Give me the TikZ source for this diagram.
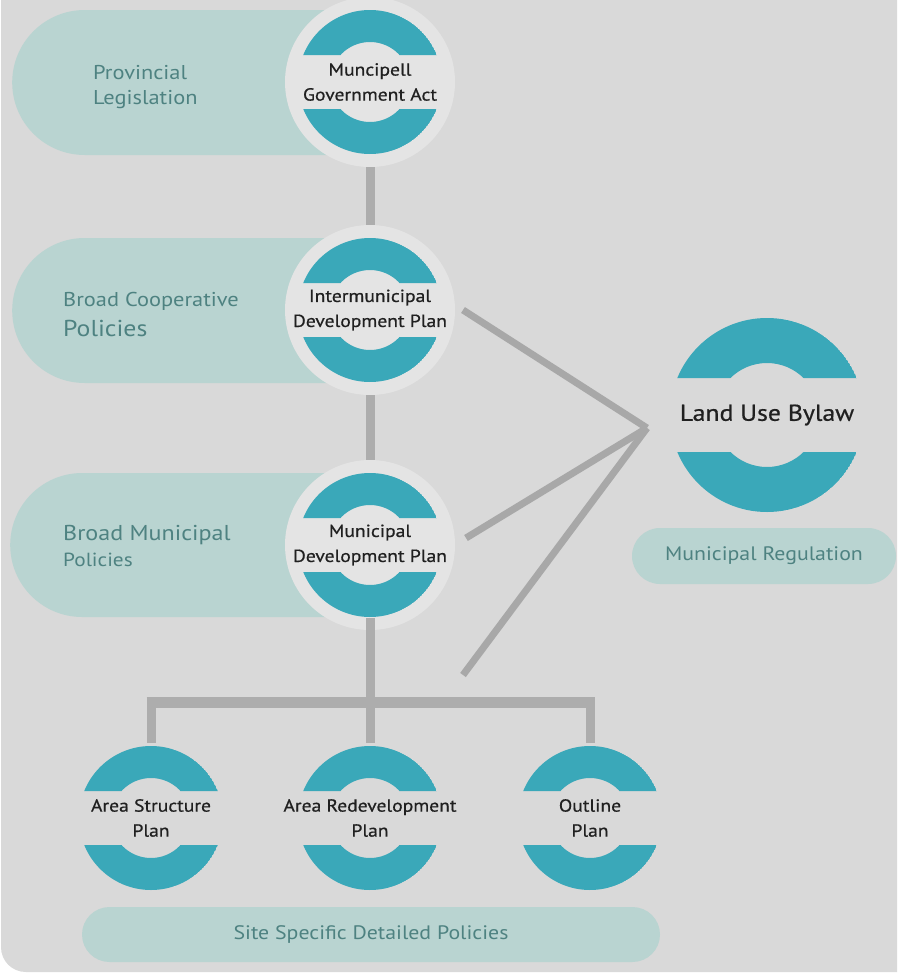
\documentclass[tikz,border=0pt]{standalone}
\usepackage{fontspec}
\setmainfont{PT Sans}[FakeStretch=1.12]
\newfontfamily\ringfont{PT Sans}[FakeStretch=1.12, FakeBold=0.6]
\usetikzlibrary{shapes.misc}
\definecolor{panelc}{HTML}{D9D9D9}
\definecolor{haloc}{HTML}{E4E4E4}
\definecolor{ringc}{HTML}{3AA8B9}
\definecolor{pillc}{HTML}{B9D4D1}
\definecolor{connc}{HTML}{ADADAD}
\definecolor{diagc}{HTML}{A8A8A8}
\definecolor{pilltext}{HTML}{4E8281}
\definecolor{ringtext}{HTML}{202020}
\tikzset{
  ring/.style n args={3}{circle, minimum size=2*#1, inner sep=-25pt, outer sep=3pt, align=center, text=ringtext,
    path picture={
      \begin{scope}
        \clip ([shift={(-120pt,#3)}]path picture bounding box.center) rectangle ([shift={(120pt,120pt)}]path picture bounding box.center)
              ([shift={(-120pt,-#3)}]path picture bounding box.center) rectangle ([shift={(120pt,-120pt)}]path picture bounding box.center);
        \fill[ringc, even odd rule] (path picture bounding box.center) circle (#1) (path picture bounding box.center) circle (#2);
      \end{scope}}},
  smallring/.style={ring={72pt}{40pt}{27pt}, font=\ringfont\fontsize{17.5}{25}\selectfont},
  halo/.style={outer sep=13pt, preaction={draw=haloc, fill=haloc, line width=26pt}},
  pill/.style={rounded rectangle, rounded rectangle right arc=none, fill=pillc, inner sep=0pt, anchor=west},
  fullpill/.style={rounded rectangle, fill=pillc, inner sep=0pt, text=pilltext},
  ptext/.style={anchor=base west, text=pilltext, inner sep=0pt},
  conn/.style={draw=connc, line width=9pt},
  bar/.style={draw=connc, line width=11pt},
  diag/.style={draw=diagc, line width=7pt},
}
\begin{document}
\begin{tikzpicture}[x=1pt,y=-1pt]
\useasboundingbox (0,0) rectangle (897,977);
\fill[white] (0,0) rectangle (897,977);
\fill[panelc] (1,0) -- (1,947) .. controls (1,961) and (12,972) .. (26,972) -- (897,972) -- (897,0) -- cycle;

% pills
\node[pill, minimum width=358pt, minimum height=145pt] (p1) at (12,82.5) {};
\node[pill, minimum width=358pt, minimum height=145pt] (p2) at (12,310.5) {};
\node[pill, minimum width=360pt, minimum height=144pt] (p3) at (10,545) {};

\node[ptext, font=\fontsize{20}{24}\selectfont] (t1a) at (93,79) {Provincial};
\node[ptext, font=\fontsize{20}{24}\selectfont] (t1b) at (93,104) {Legislation};
\node[ptext, font=\fontsize{20}{24}\selectfont] (t2a) at (63,306) {Broad Cooperative};
\node[ptext, font=\fontsize{23}{28}\selectfont] (t2b) at (63,336) {Policies};
\node[ptext, font=\fontsize{21.5}{26}\selectfont] (t3a) at (63,540) {Broad Municipal};
\node[ptext, font=\fontsize{19}{24}\selectfont] (t3b) at (63,566) {Policies};

% rings
\node[smallring, halo] (mga) at (370,82) {Muncipell\\Government Act};
\node[smallring, halo] (igp) at (370,310) {Intermunicipal\\Development Plan};
\node[smallring, halo] (mdp) at (370,545) {Municipal\\Development Plan};
\node[ring={97pt}{52pt}{37pt}, font=\ringfont\fontsize{23}{28}\selectfont] (lub) at (767,415) {Land Use Bylaw};
\node[smallring] (asp) at (151,818) {Area Structure\\Plan};
\node[smallring] (arp) at (370,818) {Area Redevelopment\\Plan};
\node[smallring] (olp) at (590,818) {Outline\\Plan};

\node[fullpill, minimum width=264pt, minimum height=56pt, font=\fontsize{19.5}{24}\selectfont] (mreg) at (764,556) {Municipal Regulation};
\node[fullpill, minimum width=578pt, minimum height=55pt, font=\fontsize{19.5}{24}\selectfont] (site) at (371,934.5) {Site Specific Detailed Policies};

% connectors
\draw[conn] (mga) -- (igp);
\draw[conn] (igp) -- (mdp);
\coordinate (hub) at (647,428);
\coordinate (d3) at (463,675);
\draw[diag] ([xshift=8pt]igp.east) -- (hub);
\draw[diag] ([shift={(11pt,7pt)}]mdp.east) -- (hub);
\draw[diag] (d3) -- (hub);

\coordinate (jn) at (370,702);
\draw[conn] ([yshift=12pt]mdp.south) -- (jn);
\draw[bar] ([xshift=-4.5pt]asp.north |- jn) -- ([xshift=4.5pt]olp.north |- jn);
\draw[conn] (asp.north |- jn) -- (asp.north);
\draw[conn] (arp.north |- jn) -- (arp.north);
\draw[conn] (olp.north |- jn) -- (olp.north);
\end{tikzpicture}
\end{document}
